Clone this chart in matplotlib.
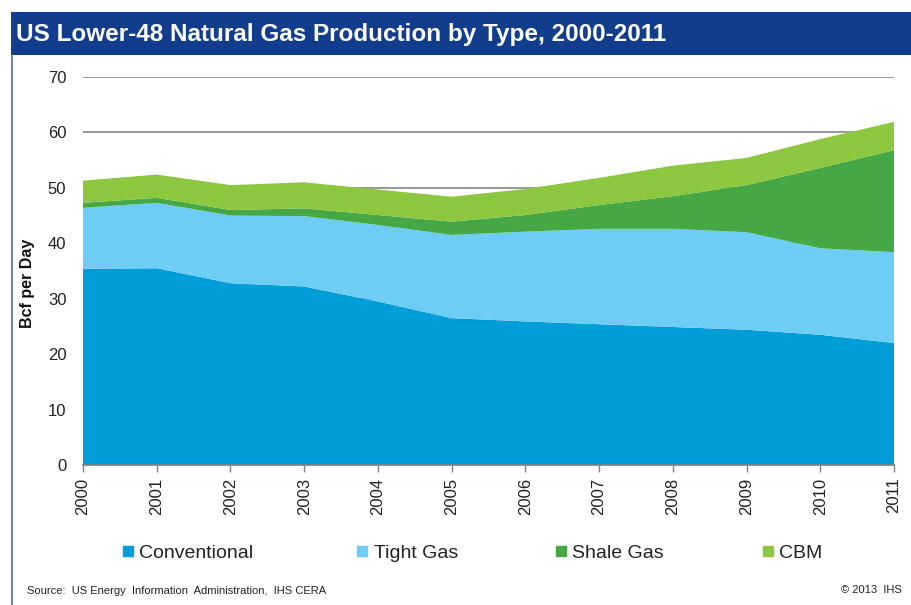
import matplotlib
matplotlib.use("Agg")
import matplotlib.pyplot as plt
from matplotlib.lines import Line2D
from matplotlib.patches import Rectangle

years = list(range(2000, 2012))
conventional = [35.4, 35.5, 32.8, 32.2, 29.5, 26.5, 25.9, 25.4, 24.9, 24.4, 23.5, 22.0]
tight_gas    = [11.0, 11.8, 12.2, 12.7, 13.8, 15.0, 16.2, 17.2, 17.7, 17.6, 15.6, 16.4]
shale_gas    = [0.9, 0.9, 1.0, 1.4, 1.8, 2.4, 3.0, 4.3, 5.9, 8.5, 14.5, 18.4]
cbm          = [4.0, 4.2, 4.5, 4.7, 4.6, 4.5, 4.7, 4.9, 5.5, 4.9, 5.2, 5.1]
series_names = ["Conventional", "Tight Gas", "Shale Gas", "CBM"]
colors = ["#009dd9", "#6dcdf4", "#45a845", "#8dc63f"]
y_ticks = [0, 10, 20, 30, 40, 50, 60, 70]

plt.rcParams['font.family'] = ['Liberation Sans', 'DejaVu Sans']

W, H = 911, 605
fig = plt.figure(figsize=(W / 100, H / 100), dpi=100)
fig.patch.set_facecolor("white")

# title bar
fig.add_artist(Rectangle((11 / W, 1 - 55 / H), 1 - 11 / W, 43 / H,
                         transform=fig.transFigure, facecolor="#123c8c",
                         edgecolor="none", zorder=0))
fig.text(16 / W, 1 - 34 / H, "US Lower-48 Natural Gas Production by Type, 2000-2011",
         color="white", fontsize=17.5, fontweight="bold", va="center", ha="left")
# panel border
fig.add_artist(Line2D([12 / W, 12 / W], [0, 1 - 55 / H], transform=fig.transFigure,
                      color="#5a6f95", lw=1.2))

ax = fig.add_axes([83 / W, 1 - 465 / H, (894 - 83) / W, (465 - 77) / H])
ax.stackplot(years, conventional, tight_gas, shale_gas, cbm, colors=colors,
             linewidth=0, zorder=2)
ax.set_xlim(2000, 2011)
ax.set_ylim(0, 70)
ax.set_yticks(y_ticks)
ax.set_xticks(years)
ax.set_xticklabels([str(y) for y in years], rotation=90, fontsize=12, color="#222222")
ax.tick_params(axis="y", length=0, pad=12, labelsize=12, labelcolor="#222222")
ax.tick_params(axis="x", length=5, width=1, color="#808080", pad=4, direction="out")
for s in ["left", "right", "top"]:
    ax.spines[s].set_visible(False)
ax.spines["bottom"].set_color("#808080")
ax.spines["bottom"].set_linewidth(1.2)
ax.spines["bottom"].set_zorder(3)
ax.grid(axis="y", color="#7a7a7a", linewidth=1.1, zorder=1)
ax.set_axisbelow(True)
ax.set_ylabel("Bcf per Day", fontsize=11.5, fontweight="bold", color="#111111")
ax.yaxis.set_label_coords(-0.059, 0.469)

# legend entries
leg_x = [122, 356, 555, 762]
for name, col, x in zip(series_names, colors, leg_x):
    h = Line2D([], [], marker="s", linestyle="none", markersize=7,
               markerfacecolor=col, markeredgecolor=col)
    fig.legend(handles=[h], labels=[name], loc="center left",
               bbox_to_anchor=(x / W, 1 - 553 / H), frameon=False,
               borderpad=0, borderaxespad=0, handlelength=0.6,
               handletextpad=0.3, fontsize=14, labelcolor="#222222")

fig.text(27 / W, 1 - 591 / H,
         "Source:  US Energy  Information  Administration,  IHS CERA",
         fontsize=8, color="#222222", va="center", ha="left")
fig.text(902 / W, 1 - 590 / H, "\u00a9 2013  IHS", fontsize=8, color="#222222",
         va="center", ha="right")

fig.savefig("out.png", dpi=100)
